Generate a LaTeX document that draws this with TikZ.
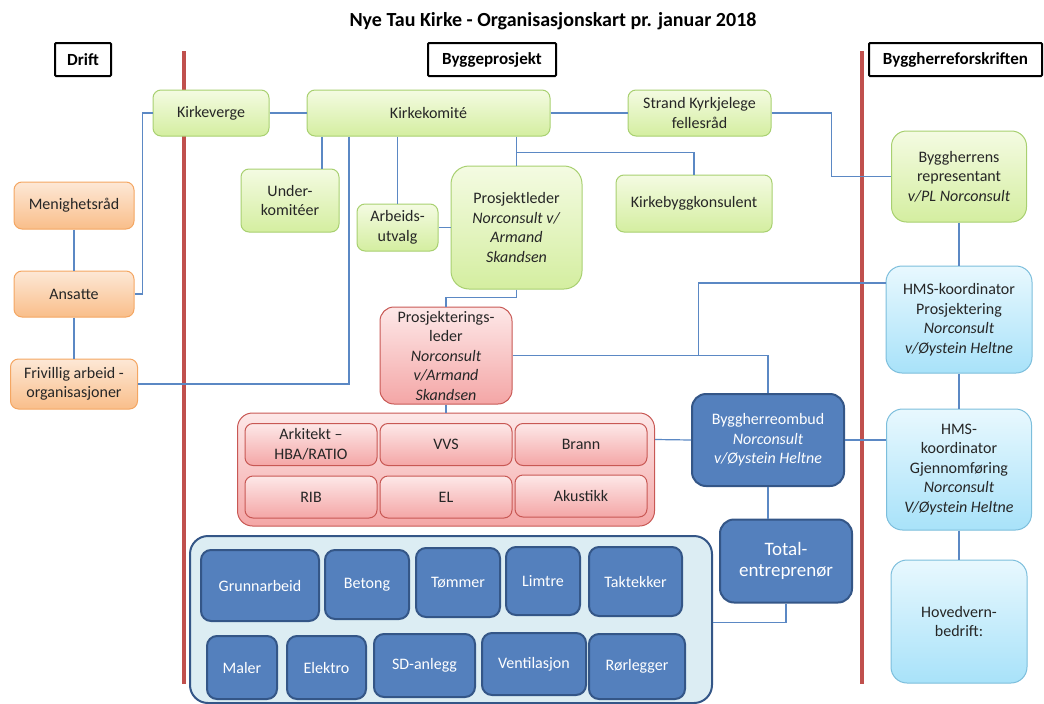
\documentclass[tikz,border=0pt]{standalone}
\usepackage{fontspec}
\setmainfont{Carlito}
\usepackage{tikz}
\usetikzlibrary{shapes}
\definecolor{linkblue}{RGB}{91,136,196}
\definecolor{divred}{RGB}{192,80,77}
\definecolor{greentop}{RGB}{244,251,226}
\definecolor{greenbot}{RGB}{212,238,160}
\definecolor{greenline}{RGB}{168,208,112}
\definecolor{orangetop}{RGB}{253,232,214}
\definecolor{orangebot}{RGB}{249,190,138}
\definecolor{orangeline}{RGB}{244,166,98}
\definecolor{redtop}{RGB}{253,232,232}
\definecolor{redbot}{RGB}{244,166,166}
\definecolor{redline}{RGB}{200,88,84}
\definecolor{cyantop}{RGB}{232,248,254}
\definecolor{cyanbot}{RGB}{168,226,249}
\definecolor{cyanline}{RGB}{124,190,220}
\definecolor{bluefill}{RGB}{84,128,189}
\definecolor{blueline}{RGB}{52,86,135}
\definecolor{paleblue}{RGB}{220,237,243}
\tikzset{
	orgnode/.style = {
		align=center,
		inner sep=2pt,
		rounded corners=8pt,
		line width=1pt,
		text=black!85,
		font=\fontsize{16}{19.5}\selectfont
	},
	wh/.style 2 args = {
		minimum width=#1,
		minimum height=#2
	},
	node_green/.style = {
		orgnode,
		draw=greenline,
		top color=greentop,
		bottom color=greenbot
	},
	node_orange/.style = {
		orgnode,
		draw=orangeline,
		top color=orangetop,
		bottom color=orangebot
	},
	node_red/.style = {
		orgnode,
		draw=redline,
		top color=redtop,
		bottom color=redbot
	},
	node_cyan/.style = {
		orgnode,
		draw=cyanline,
		top color=cyantop,
		bottom color=cyanbot,
		rounded corners=16pt
	},
	node_blue/.style = {
		orgnode,
		draw=blueline,
		fill=bluefill,
		text=white,
		line width=2pt,
		rounded corners=10pt
	},
	node_head/.style = {
		draw=black,
		fill=white,
		line width=2pt,
		rounded corners=1pt,
		minimum height=33,
		font=\bfseries\fontsize{17}{20}\selectfont
	},
	link/.style = {
		draw=linkblue,
		line width=1.2pt
	},
	divider/.style = {
		draw=divred,
		line width=4pt
	}
}

\begin{document}
\begin{tikzpicture}[x=1pt, y=-1pt]
\useasboundingbox (0,0) rectangle (1044,704);

\draw[divider] (184,51) -- (184,684);
\draw[divider] (862,51) -- (862,684);

\node [font=\bfseries\fontsize{20}{24}\selectfont] (title) at (553,21) {Nye Tau Kirke - Organisasjonskart pr. januar 2018};
\node [node_head, minimum width=56] (drift) at (83,59.5) {Drift};
\node [node_head, minimum width=128] (byggeprosjekt) at (492,59.5) {Byggeprosjekt};
\node [node_head, minimum width=173] (forskrift) at (955.5,59.5) {Byggherreforskriften};

\node [node_green, wh={116}{46}] (kirkeverge) at (211,113) {Kirkeverge};
\node [node_green, wh={243}{46}] (kirkekomite) at (428.5,113) {Kirkekomité};
\node [node_green, wh={143}{46}] (strand) at (699.5,113) {Strand Kyrkjelege\\fellesråd};
\node [node_green, wh={98}{63}] (under) at (290,200.5) {Under-\\komitéer};
\node [node_green, wh={81}{47}] (arbeid) at (397.5,227.5) {Arbeids-\\utvalg};
\node [node_green, wh={131}{123}, rounded corners=18pt] (prosjektleder) at (516.5,227.5)
	{Prosjektleder\\\textit{Norconsult v/}\\\textit{Armand}\\\textit{Skandsen}};
\node [node_green, wh={156}{57}] (kirkebygg) at (694,203.5) {Kirkebyggkonsulent};
\node [node_green, wh={135}{91}, rounded corners=15pt] (byggrep) at (959,176.5)
	{Byggherrens\\representant\\\textit{v/PL Norconsult}};

\node [node_orange, wh={120}{47}] (menighet) at (74,205.5) {Menighetsråd};
\node [node_orange, wh={120}{46}] (ansatte) at (74,294) {Ansatte};
\node [node_orange, wh={127}{50}] (frivillig) at (74,384) {Frivillig arbeid -\\organisasjoner};

\node [node_red, wh={132}{97}, rounded corners=14pt] (prosjektering) at (446,355.5)
	{Prosjekterings-\\leder\\\textit{Norconsult}\\\textit{v/Armand}\\\textit{Skandsen}};
\node [node_red, wh={417}{113}, rounded corners=15pt] (radgivere) at (446,469.5) {};
\node [node_red, wh={132}{42}] (arkitekt) at (311,444.5) {Arkitekt --\\HBA/RATIO};
\node [node_red, wh={132}{42}] (vvs) at (446,444.5) {VVS};
\node [node_red, wh={132}{42}] (brann) at (581,444.5) {Brann};
\node [node_red, wh={132}{42}] (rib) at (311,497) {RIB};
\node [node_red, wh={132}{42}] (el) at (446,497) {EL};
\node [node_red, wh={132}{42}] (akustikk) at (581,496) {Akustikk};

\node [node_blue, wh={152}{92}, rounded corners=14pt] (ombud) at (768,440)
	{Byggherreombud\\\textit{Norconsult}\\\textit{v/Øystein Heltne}};
\node [node_blue, wh={132}{83}, rounded corners=14pt, font=\fontsize{19}{21}\selectfont] (total) at (786,561)
	{Total-\\entreprenør};
\node [orgnode, draw=blueline, fill=paleblue, line width=2pt, rounded corners=18pt, wh={522}{167}] (entreprise) at (451,619.5) {};
\node [node_blue, wh={118}{71}] (grunnarbeid) at (260,585.5) {Grunnarbeid};
\node [node_blue, wh={84}{69}] (betong) at (367,584.5) {Betong};
\node [node_blue, wh={84}{69}] (tommer) at (458,582.5) {Tømmer};
\node [node_blue, wh={74}{68}] (limtre) at (543,581) {Limtre};
\node [node_blue, wh={93}{69}] (taktekker) at (635.5,581.5) {Taktekker};
\node [node_blue, wh={70}{63}] (maler) at (242,667.5) {Maler};
\node [node_blue, wh={79}{63}] (elektro) at (326.5,667.5) {Elektro};
\node [node_blue, wh={101}{63}] (sdanlegg) at (424.5,665.5) {SD-anlegg};
\node [node_blue, wh={104}{62}] (ventilasjon) at (534,664) {Ventilasjon};
\node [node_blue, wh={96}{65}] (rorlegger) at (637,666.5) {Rørlegger};

\node [node_cyan, wh={146}{107}] (hmsprosj) at (959,319.5)
	{HMS-koordinator\\Prosjektering\\\textit{Norconsult}\\\textit{v/Øystein Heltne}};
\node [node_cyan, wh={145}{121}] (hmsgjen) at (959,469.5)
	{HMS-\\koordinator\\Gjennomføring\\\textit{Norconsult}\\\textit{V/Øystein Heltne}};
\node [node_cyan, wh={136}{123}] (hovedvern) at (959,621.5) {Hovedvern-\\bedrift:};

\draw[link] (menighet) -- (ansatte);
\draw[link] (ansatte) -- (frivillig);
\draw[link] (kirkeverge.west) -- ++(-10,0) |- (ansatte.east);
\draw[link] (kirkeverge) -- (kirkekomite);
\draw[link] (kirkekomite) -- (strand);
\draw[link] ([xshift=-106.5]kirkekomite.south) |- ([xshift=32]under.north);
\draw[link] ([xshift=-79.5]kirkekomite.south) |- (frivillig.east);
\draw[link] ([xshift=-31]kirkekomite.south) -- (arbeid.north);
\draw[link] ([xshift=88]kirkekomite.south) -- (prosjektleder.north);
\draw[link] ([xshift=88,yshift=-16]kirkekomite.south) -| (kirkebygg.north);
\draw[link] (arbeid) -- (prosjektleder);
\draw[link] (strand.east) -- ++(60,0) |- (byggrep.west);
\draw[link] (byggrep) -- (hmsprosj);
\draw[link] (hmsprosj) -- (hmsgjen);
\draw[link] (hmsgjen) -- (hovedvern);
\draw[link] (prosjektleder.south) -- ++(0,8) -| (prosjektering.north);
\draw[link] (prosjektering.east) -| (ombud.north);
\draw[link] ([xshift=186]prosjektering.east) |- ([yshift=36.5]hmsprosj.west);
\draw[link] (prosjektering) -- (radgivere);
\draw[link] ([yshift=30]radgivere.east) -- (ombud.west);
\draw[link] (ombud.east) -- (ombud.east -| hmsgjen.west);
\draw[link] (ombud.south) -- (ombud.south |- total.north);
\draw[link] ([yshift=-3]entreprise.east) -| (total.south);
\end{tikzpicture}
\end{document}
